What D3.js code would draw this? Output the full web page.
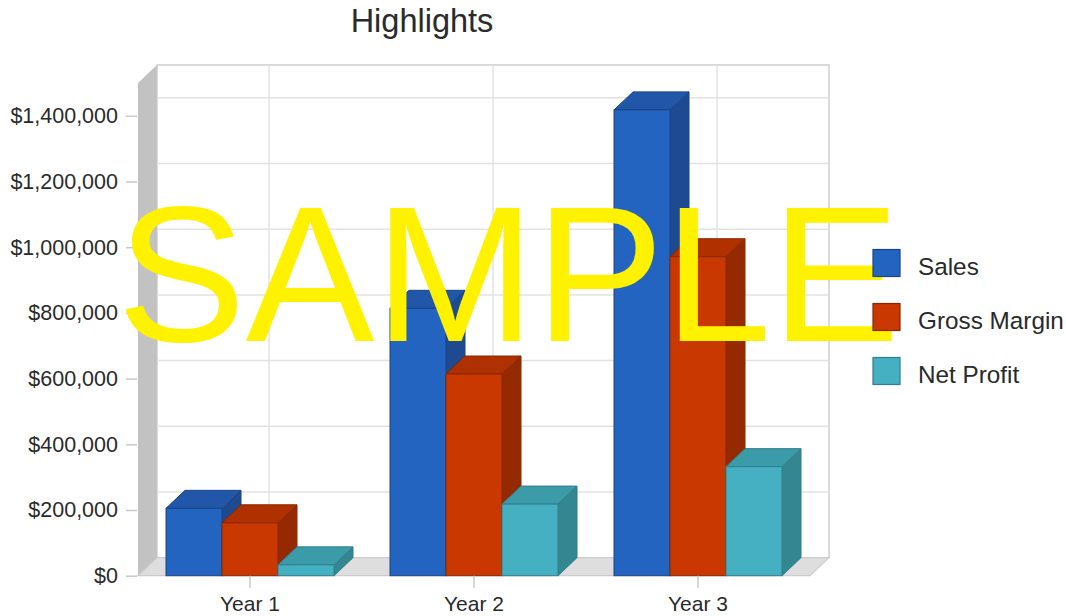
<!DOCTYPE html>
<html>
<head>
<meta charset="utf-8">
<script src="https://cdn.jsdelivr.net/npm/d3@7"></script>
<style>
  html, body { margin: 0; padding: 0; background: #ffffff; }
  svg { display: block; font-family: "Liberation Sans", Arial, sans-serif; }
</style>
</head>
<body>
<svg id="chart" width="1066" height="616"></svg>
<script>
const categories = ["Year 1", "Year 2", "Year 3"];
const seriesNames = ["Sales", "Gross Margin", "Net Profit"];
const sales = [205000, 814000, 1418000];
const grossMargin = [161000, 614000, 971000];
const netProfit = [33000, 218000, 332000];
const yTicks = [0, 200000, 400000, 600000, 800000, 1000000, 1200000, 1400000];
const yMax = 1500000;

const seriesValues = [sales, grossMargin, netProfit];
const colors = {
  "Sales":        { front: "#2464c1", top: "#2156a8", side: "#1e4a91", stroke: "#1b4585" },
  "Gross Margin": { front: "#c83800", top: "#b03100", side: "#952a00", stroke: "#8a2700" },
  "Net Profit":   { front: "#45b0c2", top: "#3b9ba9", side: "#348691", stroke: "#2f7f8a" }
};

const svg = d3.select("#chart");
const DX = 19, DY = 18;
const left = 138, right = 810;
const y = d3.scaleLinear().domain([0, yMax]).range([575.7, 82.95]);
const x0 = d3.scaleBand().domain(categories).range([left, right]).paddingInner(0).paddingOuter(0);
const x1 = d3.scaleBand().domain(seriesNames).range([0, x0.bandwidth()]).paddingInner(0).paddingOuter(0.5);

const y0 = y(0), yTop = y(yMax);

// back wall
svg.append("rect")
  .attr("x", left + DX).attr("y", yTop - DY)
  .attr("width", right - left).attr("height", y0 - yTop)
  .attr("fill", "#ffffff").attr("stroke", "#cfcfcf").attr("stroke-width", 1.5);

// horizontal gridlines on back wall
svg.append("g").selectAll("line").data(yTicks.filter(d => d > 0)).join("line")
  .attr("x1", left + DX).attr("x2", right + DX)
  .attr("y1", d => y(d) - DY).attr("y2", d => y(d) - DY)
  .attr("stroke", "#e2e2e2").attr("stroke-width", 1.5);

// vertical gridlines on back wall
svg.append("g").selectAll("line").data(categories).join("line")
  .attr("x1", d => x0(d) + x0.bandwidth() / 2 + DX)
  .attr("x2", d => x0(d) + x0.bandwidth() / 2 + DX)
  .attr("y1", yTop - DY).attr("y2", y0 - DY)
  .attr("stroke", "#e2e2e2").attr("stroke-width", 1.5);

// left wall
svg.append("polygon")
  .attr("points", [[left, yTop], [left + DX, yTop - DY], [left + DX, y0 - DY], [left, y0]].map(p => p.join(",")).join(" "))
  .attr("fill", "#c2c2c2");

// floor
svg.append("polygon")
  .attr("points", [[left, y0], [left + DX, y0 - DY], [right + DX, y0 - DY], [right, y0]].map(p => p.join(",")).join(" "))
  .attr("fill", "#dedede").attr("stroke", "#cccccc").attr("stroke-width", 1.2);

// bars
const bars = svg.append("g");
categories.forEach((cat, ci) => {
  seriesNames.forEach((s, si) => {
    const v = seriesValues[si][ci];
    const bx = x0(cat) + x1(s);
    const bw = x1.bandwidth();
    const by = y(v);
    const c = colors[s];
    const g = bars.append("g");
    g.append("polygon")
      .attr("points", [[bx + bw, by], [bx + bw + DX, by - DY], [bx + bw + DX, y0 - DY], [bx + bw, y0]].map(p => p.join(",")).join(" "))
      .attr("fill", c.side).attr("stroke", c.stroke).attr("stroke-width", 1).attr("stroke-linejoin", "round");
    g.append("polygon")
      .attr("points", [[bx, by], [bx + DX, by - DY], [bx + bw + DX, by - DY], [bx + bw, by]].map(p => p.join(",")).join(" "))
      .attr("fill", c.top).attr("stroke", c.stroke).attr("stroke-width", 1).attr("stroke-linejoin", "round");
    g.append("rect")
      .attr("x", bx).attr("y", by).attr("width", bw).attr("height", y0 - by)
      .attr("fill", c.front).attr("stroke", c.stroke).attr("stroke-width", 1);
  });
});

// y axis
const yAxis = svg.append("g")
  .attr("transform", `translate(${left - 1},0)`)
  .call(d3.axisLeft(y).tickValues(yTicks).tickSize(11).tickPadding(8)
    .tickFormat(d => "$" + d3.format(",")(d)));
yAxis.select(".domain").remove();
yAxis.selectAll(".tick line").attr("stroke", "#c8c8c8").attr("stroke-width", 1.5);
yAxis.selectAll(".tick text")
  .attr("fill", "#2a2a2a").attr("font-size", "21.5px")
  .attr("font-family", "'Liberation Sans', Arial, sans-serif");

// x axis
const xAxis = svg.append("g")
  .attr("transform", `translate(0,${y0})`)
  .call(d3.axisBottom(x0).tickSize(12).tickPadding(8));
xAxis.select(".domain").remove();
xAxis.selectAll(".tick line").attr("stroke", "#c8c8c8").attr("stroke-width", 1.5);
xAxis.selectAll(".tick text")
  .attr("fill", "#2a2a2a").attr("font-size", "21px")
  .attr("font-family", "'Liberation Sans', Arial, sans-serif");

// title
svg.append("text")
  .attr("x", 422).attr("y", 32)
  .attr("text-anchor", "middle")
  .attr("font-size", "32.5px").attr("fill", "#2a2a2a")
  .text("Highlights");

// watermark
svg.append("text")
  .attr("x", 117).attr("y", 341)
  .attr("font-size", "193px").attr("fill", "#fff200")
  .text("SAMPLE");

// legend
const legend = svg.append("g");
seriesNames.forEach((s, i) => {
  const ly = 249.5 + i * 54;
  legend.append("rect")
    .attr("x", 873).attr("y", ly).attr("width", 27).attr("height", 27)
    .attr("fill", colors[s].front).attr("stroke", colors[s].stroke).attr("stroke-width", 1.2);
  legend.append("text")
    .attr("x", 918).attr("y", ly + 25.5)
    .attr("font-size", "24.3px").attr("fill", "#2a2a2a")
    .text(s);
});
</script>
</body>
</html>
